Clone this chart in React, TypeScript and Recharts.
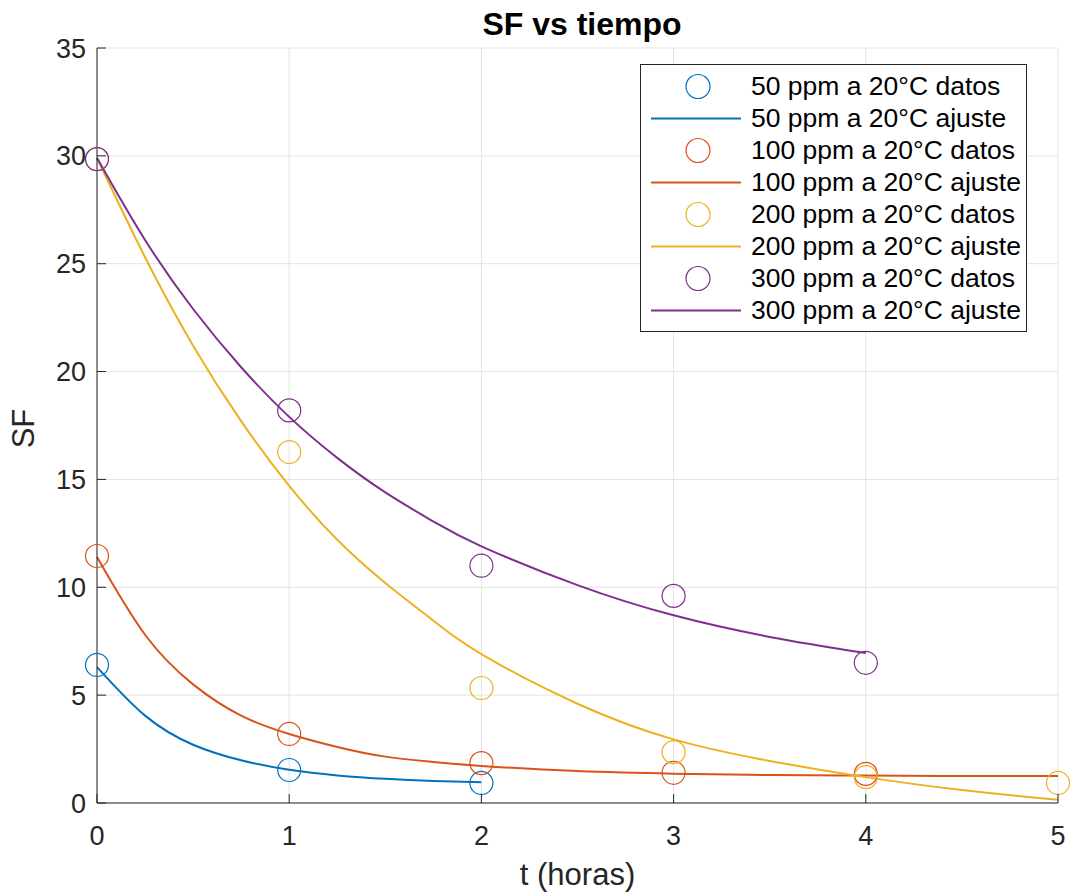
import React from "react";
import {
  CartesianGrid,
  ComposedChart,
  Label,
  Line,
  Scatter,
  XAxis,
  YAxis,
} from "recharts";

// measured points (t in hours)
const t50 = [0, 1, 2];
const sf50 = [6.4, 1.53, 0.93];
const t100 = [0, 1, 2, 3, 4];
const sf100 = [11.45, 3.2, 1.85, 1.4, 1.35];
const t200 = [0, 1, 2, 3, 4, 5];
const sf200 = [29.85, 16.27, 5.33, 2.36, 1.2, 0.93];
const t300 = [0, 1, 2, 3, 4];
const sf300 = [29.85, 18.2, 11.0, 9.6, 6.5];

// fitted curves
const fitT50 = [0, 0.25, 0.5, 0.75, 1, 1.25, 1.5, 1.75, 2];
const fit50 = [6.3, 4.05, 2.7, 1.98, 1.54, 1.28, 1.12, 1.02, 0.96];
const fitT100 = [0, 0.25, 0.5, 0.75, 1, 1.25, 1.5, 1.75, 2, 2.5, 3, 3.5, 4, 4.5, 5];
const fit100 = [11.4, 7.8, 5.5, 4.05, 3.2, 2.6, 2.15, 1.9, 1.72, 1.48, 1.36, 1.3, 1.27, 1.25, 1.25];
const fitT200 = [0, 0.25, 0.5, 0.75, 1, 1.25, 1.5, 1.75, 2, 2.5, 3, 3.5, 4, 4.5, 5];
const fit200 = [29.9, 25.3, 21.2, 17.7, 14.7, 12.2, 10.2, 8.45, 6.9, 4.6, 2.95, 1.95, 1.2, 0.6, 0.15];
const fitT300 = [0, 0.25, 0.5, 0.75, 1, 1.25, 1.5, 1.75, 2, 2.5, 3, 3.5, 4];
const fit300 = [29.9, 26.1, 22.9, 20.2, 17.9, 16.0, 14.4, 13.05, 11.9, 10.1, 8.7, 7.7, 6.95];

const xTicks = [0, 1, 2, 3, 4, 5];
const yTicks = [0, 5, 10, 15, 20, 25, 30, 35];

const legendLabels = [
  "50 ppm a 20°C datos",
  "50 ppm a 20°C ajuste",
  "100 ppm a 20°C datos",
  "100 ppm a 20°C ajuste",
  "200 ppm a 20°C datos",
  "200 ppm a 20°C ajuste",
  "300 ppm a 20°C datos",
  "300 ppm a 20°C ajuste",
];

const colors = ["#0072BD", "#D95319", "#EDB120", "#7E2F8E"];
const FONT = "'Liberation Sans', Arial, sans-serif";
const INK = "#262626";

const zip = (xs: number[], ys: number[]) => xs.map((x, i) => ({ x, y: ys[i] }));

const series = [
  { pts: zip(t50, sf50), fit: zip(fitT50, fit50) },
  { pts: zip(t100, sf100), fit: zip(fitT100, fit100) },
  { pts: zip(t200, sf200), fit: zip(fitT200, fit200) },
  { pts: zip(t300, sf300), fit: zip(fitT300, fit300) },
];

const ring = (color: string) => (props: any) =>
  <circle cx={props.cx} cy={props.cy} r={11.5} fill="none" stroke={color} strokeWidth={1.2} />;

const XTick = (props: any) => {
  const { x, y, payload } = props;
  return (
    <g>
      <line x1={x} y1={y} x2={x} y2={y - 9} stroke={INK} />
      <text x={x} y={y + 42} textAnchor="middle" fontSize={27} fill={INK} fontFamily={FONT}>
        {payload.value}
      </text>
    </g>
  );
};

const YTick = (props: any) => {
  const { x, y, payload } = props;
  return (
    <g>
      <line x1={x} y1={y} x2={x + 9} y2={y} stroke={INK} />
      <text x={x - 11} y={y + 9.5} textAnchor="end" fontSize={27} fill={INK} fontFamily={FONT}>
        {payload.value}
      </text>
    </g>
  );
};

export default function App() {
  return (
    <div style={{ position: "absolute", left: 0, top: 0, width: 1070, height: 893, background: "#fff" }}>
      <div
        style={{
          position: "absolute",
          left: 0,
          top: 8,
          width: 1164,
          textAlign: "center",
          fontFamily: FONT,
          fontWeight: "bold",
          fontSize: 32,
          lineHeight: "32px",
          color: "#000",
        }}
      >
        SF vs tiempo
      </div>
      <ComposedChart width={1070} height={893} margin={{ top: 48, right: 12, bottom: 0, left: 0 }}>
        <CartesianGrid stroke="#e3e3e3" strokeWidth={1} />
        <XAxis
          dataKey="x"
          type="number"
          domain={[0, 5]}
          ticks={xTicks}
          height={90}
          tickSize={0}
          tickMargin={0}
          tick={XTick}
          axisLine={{ stroke: INK }}
          allowDuplicatedCategory={false}
        >
          <Label
            content={({ viewBox }: any) => (
              <text
                x={viewBox.x + viewBox.width / 2}
                y={viewBox.y + 82}
                textAnchor="middle"
                fontSize={31}
                fill={INK}
                fontFamily={FONT}
              >
                t (horas)
              </text>
            )}
          />
        </XAxis>
        <YAxis
          type="number"
          domain={[0, 35]}
          ticks={yTicks}
          width={97}
          tickSize={0}
          tickMargin={0}
          tick={YTick}
          axisLine={{ stroke: INK }}
        >
          <Label
            content={({ viewBox }: any) => {
              const cy = viewBox.y + viewBox.height / 2 + 3;
              return (
                <text
                  x={34}
                  y={cy}
                  transform={`rotate(-90, 34, ${cy})`}
                  textAnchor="middle"
                  fontSize={31}
                  fill={INK}
                  fontFamily={FONT}
                >
                  SF
                </text>
              );
            }}
          />
        </YAxis>
        {series.map((s, i) => [
          <Scatter
            key={`d${i}`}
            data={s.pts}
            dataKey="y"
            shape={ring(colors[i])}
            isAnimationActive={false}
          />,
          <Line
            key={`f${i}`}
            data={s.fit}
            dataKey="y"
            type="natural"
            stroke={colors[i]}
            strokeWidth={2}
            dot={false}
            activeDot={false}
            isAnimationActive={false}
          />,
        ])}
      </ComposedChart>
      <div
        style={{
          position: "absolute",
          left: 640,
          top: 64,
          width: 387,
          height: 268,
          border: `1px solid ${INK}`,
          background: "#fff",
          boxSizing: "border-box",
          paddingTop: 6,
          fontFamily: FONT,
          fontSize: 26.5,
          color: "#000",
        }}
      >
        {legendLabels.map((lab, i) => {
          const c = colors[Math.floor(i / 2)];
          const isData = i % 2 === 0;
          return (
            <div key={lab} style={{ height: 31.9, display: "flex", alignItems: "center", whiteSpace: "nowrap" }}>
              <svg width={110} height={31} style={{ flex: "none" }}>
                {isData ? (
                  <circle cx={57} cy={15.5} r={12} fill="none" stroke={c} strokeWidth={1.2} />
                ) : (
                  <line x1={10} y1={15.5} x2={100} y2={15.5} stroke={c} strokeWidth={2} />
                )}
              </svg>
              <span>{lab}</span>
            </div>
          );
        })}
      </div>
    </div>
  );
}
